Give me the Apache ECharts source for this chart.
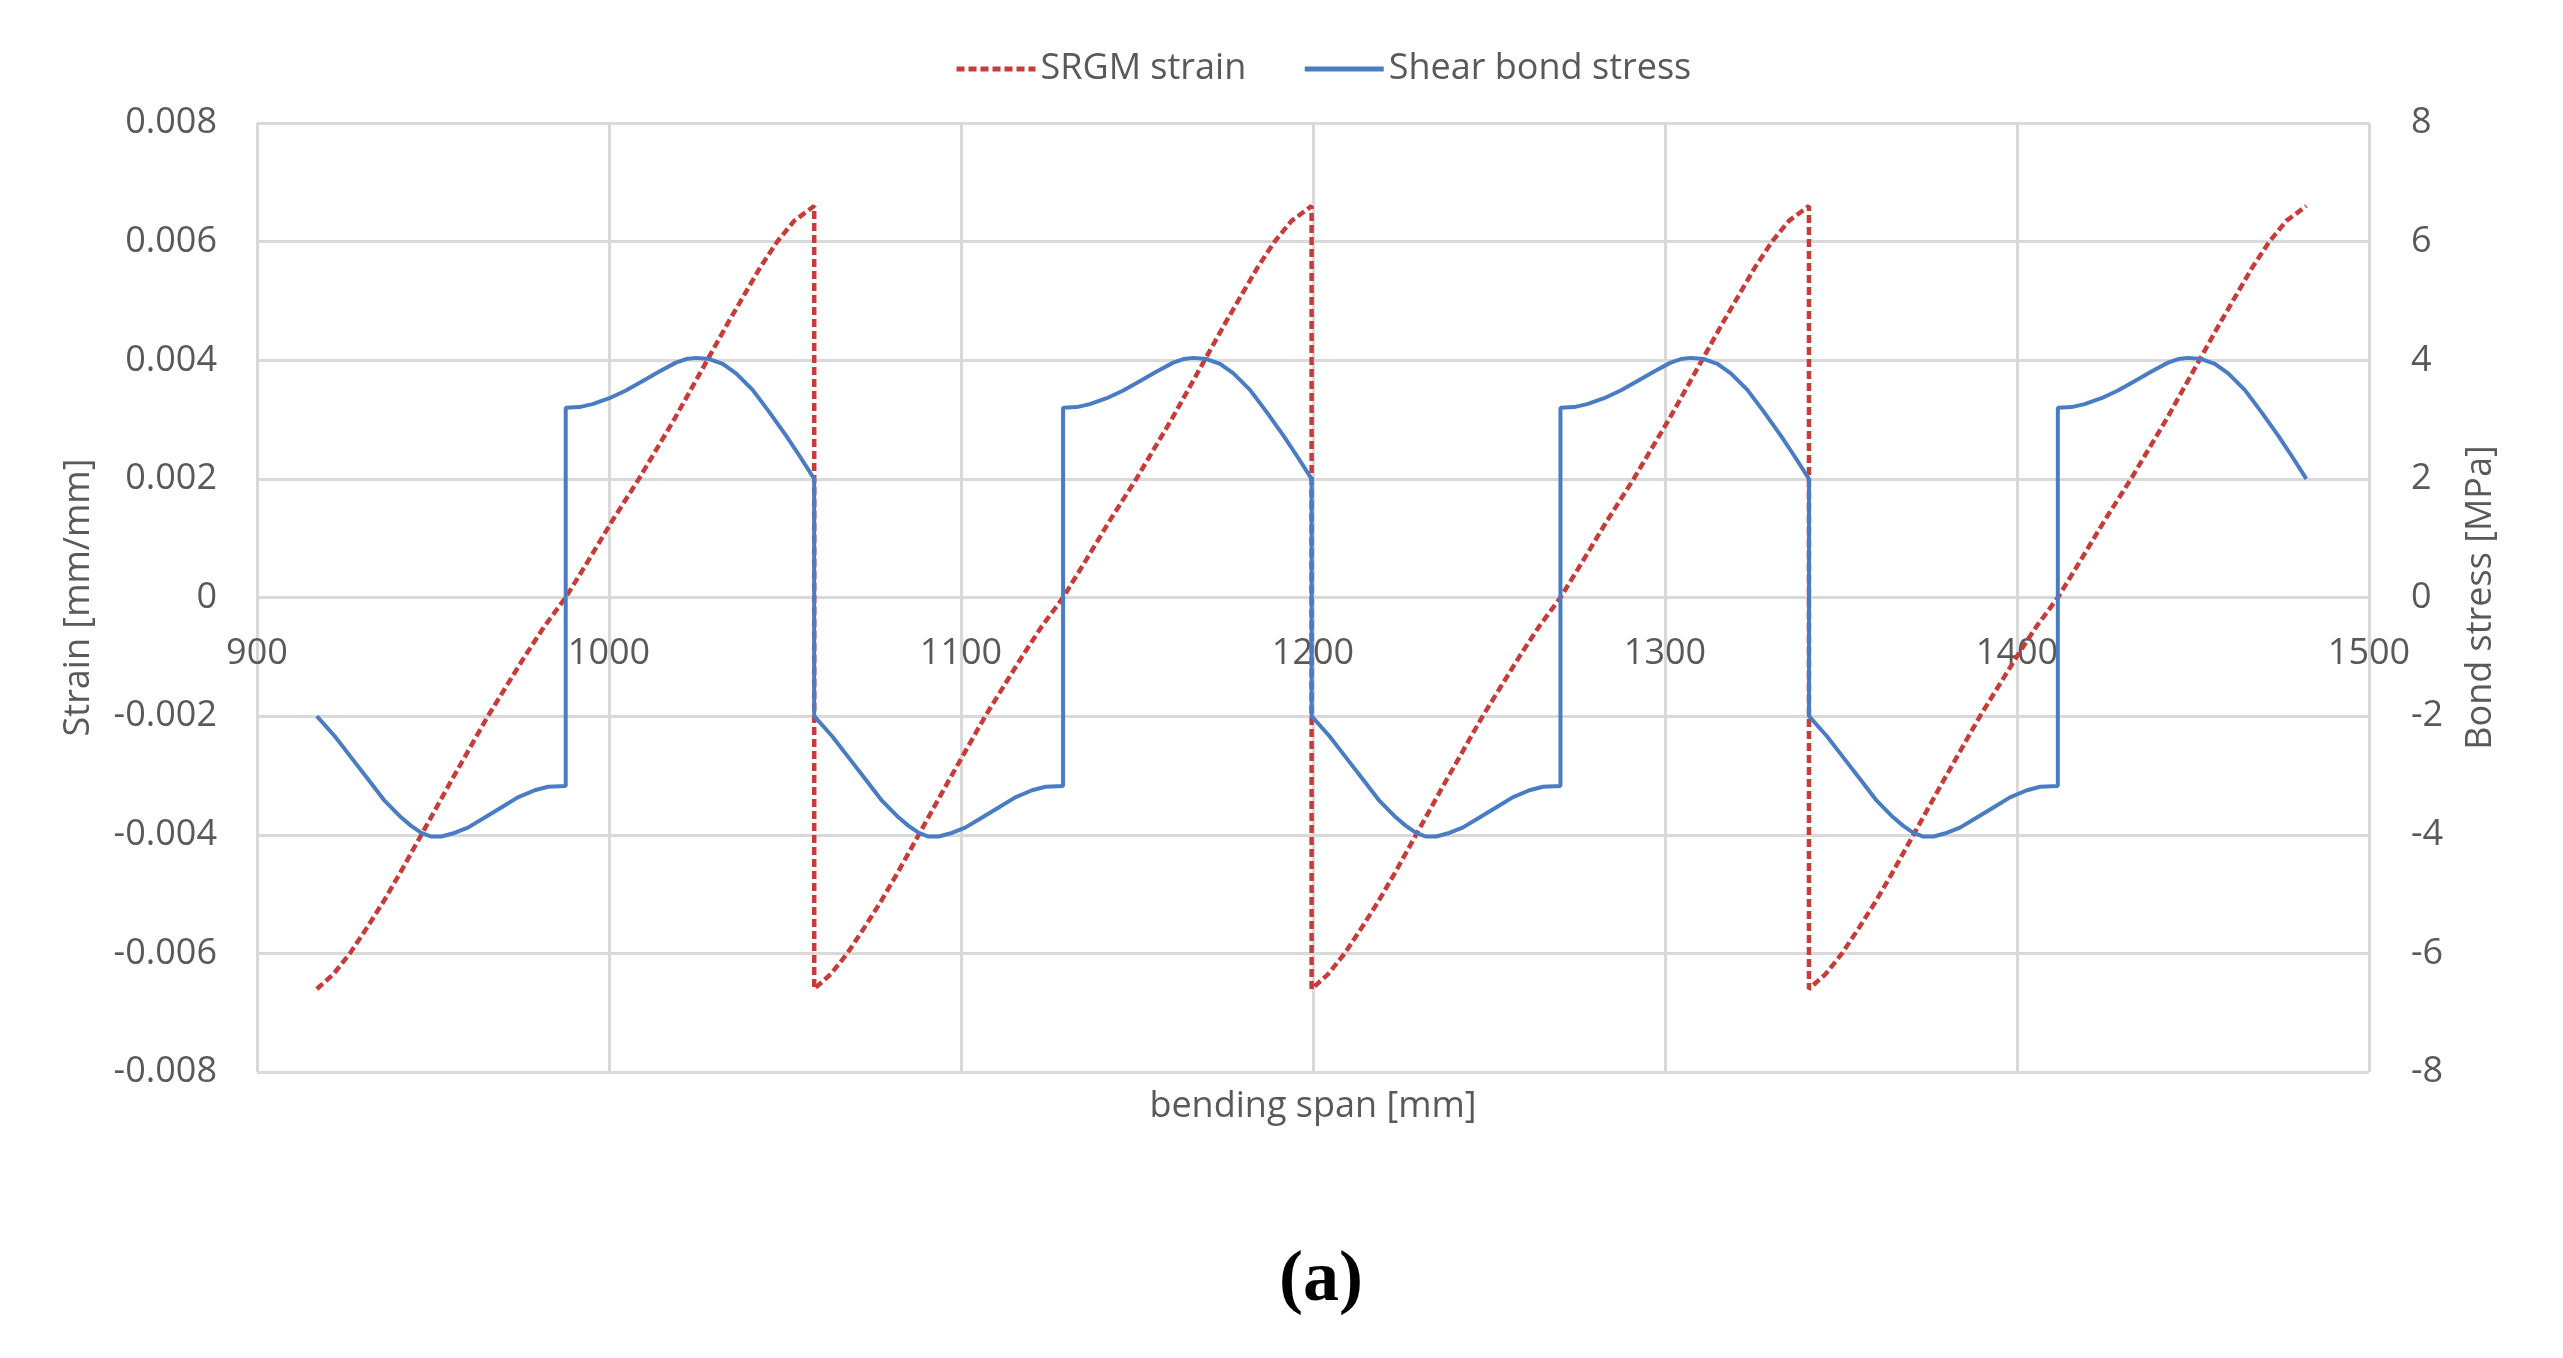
<!DOCTYPE html>
<html>
<head>
<meta charset="utf-8">
<script src="https://cdn.jsdelivr.net/npm/echarts@6/dist/echarts.min.js"></script>
<style>
html,body{margin:0;padding:0;background:#fff;}
#chart{width:2563px;height:1358px;}
</style>
</head>
<body>
<div id="chart"></div>
<script>
// ---- data ----
const seriesNames = ['SRGM strain', 'Shear bond stress'];

// SRGM strain [mm/mm] vs bending span [mm]
const strainX = [
  917.0, 921.7, 926.4, 931.2, 935.9, 940.6, 946.7, 955.1, 965.6, 976.0, 981.5, 987.7, 993.5, 1001.0, 1008.5, 1018.5, 1027.9, 1034.0, 1038.7, 1043.0, 1047.8, 1052.6, 1058.3,
  1058.3, 1063.0, 1067.7, 1072.5, 1077.2, 1081.9, 1088.0, 1096.4, 1106.9, 1117.3, 1122.8, 1129.0, 1134.8, 1142.3, 1149.8, 1159.8, 1169.2, 1175.3, 1180.0, 1184.3, 1189.1, 1193.9, 1199.6,
  1199.6, 1204.3, 1209.0, 1213.8, 1218.5, 1223.2, 1229.3, 1237.7, 1248.2, 1258.6, 1264.1, 1270.3, 1276.1, 1283.6, 1291.1, 1301.1, 1310.5, 1316.6, 1321.3, 1325.6, 1330.4, 1335.2, 1340.9,
  1340.9, 1345.6, 1350.3, 1355.1, 1359.8, 1364.5, 1370.6, 1379.0, 1389.5, 1399.9, 1405.4, 1411.6, 1417.4, 1424.9, 1432.4, 1442.4, 1451.8, 1457.9, 1462.6, 1466.9, 1471.7, 1476.5, 1482.2
];
const strainY = [
  -0.0066, -0.00635, -0.0060, -0.00557, -0.00513, -0.00465, -0.0040, -0.0031, -0.0020, -0.0010, -0.0005, 0, 0.00056, 0.0013, 0.0020, 0.0030, 0.0040, 0.00465, 0.00513, 0.00557, 0.0060, 0.00635, 0.0066,
  -0.0066, -0.00635, -0.0060, -0.00557, -0.00513, -0.00465, -0.0040, -0.0031, -0.0020, -0.0010, -0.0005, 0, 0.00056, 0.0013, 0.0020, 0.0030, 0.0040, 0.00465, 0.00513, 0.00557, 0.0060, 0.00635, 0.0066,
  -0.0066, -0.00635, -0.0060, -0.00557, -0.00513, -0.00465, -0.0040, -0.0031, -0.0020, -0.0010, -0.0005, 0, 0.00056, 0.0013, 0.0020, 0.0030, 0.0040, 0.00465, 0.00513, 0.00557, 0.0060, 0.00635, 0.0066,
  -0.0066, -0.00635, -0.0060, -0.00557, -0.00513, -0.00465, -0.0040, -0.0031, -0.0020, -0.0010, -0.0005, 0, 0.00056, 0.0013, 0.0020, 0.0030, 0.0040, 0.00465, 0.00513, 0.00557, 0.0060, 0.00635, 0.0066
];

// Shear bond stress [MPa] vs bending span [mm]
const stressX = [
  917.0, 922.1, 926.8, 931.5, 936.3, 941.0, 943.8, 946.7, 949.5, 952.4, 956.1, 959.9, 964.7, 969.4, 974.1, 978.9, 982.7, 987.7, 987.7, 991.6, 995.3, 1000.1, 1004.8, 1009.6, 1014.3, 1019.0, 1021.9, 1024.7, 1028.5, 1032.3, 1036.1, 1040.8, 1045.5, 1050.3, 1054.1, 1058.3,
  1058.3, 1063.4, 1068.1, 1072.8, 1077.6, 1082.3, 1085.1, 1088.0, 1090.8, 1093.7, 1097.4, 1101.2, 1106.0, 1110.7, 1115.4, 1120.2, 1124.0, 1129.0, 1129.0, 1132.9, 1136.6, 1141.4, 1146.1, 1150.9, 1155.6, 1160.3, 1163.2, 1166.0, 1169.8, 1173.6, 1177.4, 1182.1, 1186.8, 1191.6, 1195.4, 1199.6,
  1199.6, 1204.7, 1209.4, 1214.1, 1218.9, 1223.6, 1226.4, 1229.3, 1232.1, 1235.0, 1238.7, 1242.5, 1247.3, 1252.0, 1256.7, 1261.5, 1265.3, 1270.3, 1270.3, 1274.2, 1277.9, 1282.7, 1287.4, 1292.2, 1296.9, 1301.6, 1304.5, 1307.3, 1311.1, 1314.9, 1318.7, 1323.4, 1328.1, 1332.9, 1336.7, 1340.9,
  1340.9, 1346.0, 1350.7, 1355.4, 1360.2, 1364.9, 1367.7, 1370.6, 1373.4, 1376.3, 1380.0, 1383.8, 1388.6, 1393.3, 1398.0, 1402.8, 1406.6, 1411.6, 1411.6, 1415.5, 1419.2, 1424.0, 1428.7, 1433.5, 1438.2, 1442.9, 1445.8, 1448.6, 1452.4, 1456.2, 1460.0, 1464.7, 1469.4, 1474.2, 1478.0, 1482.2
];
const stressY = [
  -2.0, -2.34, -2.70, -3.06, -3.43, -3.71, -3.85, -3.97, -4.03, -4.03, -3.97, -3.88, -3.71, -3.54, -3.37, -3.25, -3.19, -3.18, 3.20, 3.21, 3.26, 3.36, 3.49, 3.65, 3.81, 3.96, 4.02, 4.04, 4.02, 3.94, 3.78, 3.50, 3.13, 2.73, 2.39, 2.0,
  -2.0, -2.34, -2.70, -3.06, -3.43, -3.71, -3.85, -3.97, -4.03, -4.03, -3.97, -3.88, -3.71, -3.54, -3.37, -3.25, -3.19, -3.18, 3.20, 3.21, 3.26, 3.36, 3.49, 3.65, 3.81, 3.96, 4.02, 4.04, 4.02, 3.94, 3.78, 3.50, 3.13, 2.73, 2.39, 2.0,
  -2.0, -2.34, -2.70, -3.06, -3.43, -3.71, -3.85, -3.97, -4.03, -4.03, -3.97, -3.88, -3.71, -3.54, -3.37, -3.25, -3.19, -3.18, 3.20, 3.21, 3.26, 3.36, 3.49, 3.65, 3.81, 3.96, 4.02, 4.04, 4.02, 3.94, 3.78, 3.50, 3.13, 2.73, 2.39, 2.0,
  -2.0, -2.34, -2.70, -3.06, -3.43, -3.71, -3.85, -3.97, -4.03, -4.03, -3.97, -3.88, -3.71, -3.54, -3.37, -3.25, -3.19, -3.18, 3.20, 3.21, 3.26, 3.36, 3.49, 3.65, 3.81, 3.96, 4.02, 4.04, 4.02, 3.94, 3.78, 3.50, 3.13, 2.73, 2.39, 2.0
];

// axis settings
const xMin = 900, xMax = 1500, xStep = 100;
const strainMin = -0.008, strainMax = 0.008, strainStep = 0.002;
const stressMin = -8, stressMax = 8, stressStep = 2;
const xName = 'bending span [mm]';
const yLeftName = 'Strain [mm/mm]';
const yRightName = 'Bond stress [MPa]';
const caption = '(a)';

// ---- chart ----
const FONT = '"Open Sans", "Noto Sans", sans-serif';
const TXT = '#595959';
const GRID = '#d9d9d9';
const RED = '#c73b39';
const BLUE = '#4a7cc4';

const GRID_TOP = 123, GRID_H = 949;

const strainData = strainX.map((x, i) => [x, strainY[i]]);
const stressData = stressX.map((x, i) => [x, stressY[i]]);

const chart = echarts.init(document.getElementById('chart'), null, {renderer: 'canvas'});
chart.setOption({
  backgroundColor: '#ffffff',
  animation: false,
  textStyle: {fontFamily: FONT},
  title: {
    text: caption,
    left: 1316,
    top: 1240,
    textAlign: 'center',
    textStyle: {fontFamily: '"Liberation Serif", "DejaVu Serif", serif', fontWeight: 'bold', fontSize: 72, color: '#000'}
  },
  legend: {
    data: seriesNames,
    left: 949,
    top: 46,
    itemWidth: 79,
    itemHeight: 6,
    itemGap: 56,
    itemStyle: {opacity: 0},
    lineStyle: {width: 5},
    textStyle: {fontFamily: FONT, fontSize: 36, color: TXT}
  },
  grid: {left: 257, top: GRID_TOP, width: 2112, height: GRID_H},
  xAxis: {
    type: 'value',
    position: 'bottom',
    offset: -GRID_H / 2,
    min: xMin, max: xMax, interval: xStep,
    axisLine: {show: false, onZero: false},
    axisTick: {show: false},
    axisLabel: {fontSize: 36, color: TXT, margin: 38, fontFamily: FONT, formatter: v => String(v)},
    splitLine: {show: true, lineStyle: {color: GRID, width: 3}},
    name: xName,
    nameLocation: 'middle',
    nameGap: GRID_H / 2 + 17,
    nameTextStyle: {fontSize: 36, color: TXT, fontFamily: FONT}
  },
  yAxis: [{
    type: 'value',
    position: 'left',
    min: strainMin, max: strainMax, interval: strainStep,
    axisLine: {show: false},
    axisTick: {show: false},
    axisLabel: {
      fontSize: 36, color: TXT, margin: 40, fontFamily: FONT,
      formatter: v => (Math.abs(v) < 1e-12 ? '0' : v.toFixed(3))
    },
    splitLine: {show: true, lineStyle: {color: GRID, width: 3}},
    name: yLeftName,
    nameLocation: 'middle',
    nameRotate: 90,
    nameGap: 160,
    nameTextStyle: {fontSize: 36, color: TXT, fontFamily: FONT}
  }, {
    type: 'value',
    position: 'right',
    min: stressMin, max: stressMax, interval: stressStep,
    axisLine: {show: false},
    axisTick: {show: false},
    axisLabel: {fontSize: 36, color: TXT, margin: 42, fontFamily: FONT},
    splitLine: {show: false},
    name: yRightName,
    nameLocation: 'middle',
    nameRotate: 90,
    nameGap: 94,
    nameTextStyle: {fontSize: 36, color: TXT, fontFamily: FONT}
  }],
  series: [{
    name: seriesNames[0],
    type: 'line',
    yAxisIndex: 0,
    data: strainData,
    symbol: 'none',
    smooth: false,
    lineStyle: {color: RED, width: 4.5, type: [8, 4]},
    itemStyle: {color: RED},
    z: 2
  }, {
    name: seriesNames[1],
    type: 'line',
    yAxisIndex: 1,
    data: stressData,
    symbol: 'none',
    smooth: false,
    lineStyle: {color: BLUE, width: 4},
    itemStyle: {color: BLUE},
    z: 3
  }]
});
</script>
</body>
</html>
